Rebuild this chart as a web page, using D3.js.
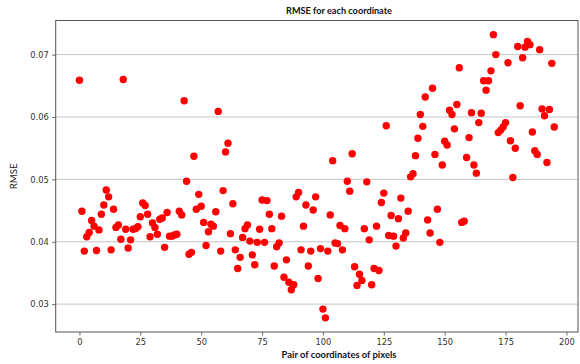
<!DOCTYPE html>
<html>
<head>
<meta charset="utf-8">
<script src="https://cdn.jsdelivr.net/npm/d3@7"></script>
<style>
  html, body { margin: 0; padding: 0; background: #ffffff; }
  svg { display: block; }
</style>
</head>
<body>
<svg id="chart" width="580" height="364"></svg>
<script>
// RMSE of each pair of pixel coordinates (pair index = position in the list)
const rmse = [
  0.0659, 0.0449, 0.0385, 0.0408, 0.0415, 0.0434, 0.0425, 0.0386, 0.0419, 0.0444,
  0.0459, 0.0483, 0.0472, 0.0387, 0.0452, 0.0423, 0.0427, 0.0404, 0.0660, 0.0420,
  0.0390, 0.0403, 0.0420, 0.0421, 0.0424, 0.0440, 0.0462, 0.0458, 0.0444, 0.0408,
  0.0430, 0.0423, 0.0412, 0.0436, 0.0438, 0.0391, 0.0447, 0.0409, 0.0409, 0.0411,
  0.0412, 0.0449, 0.0443, 0.0626, 0.0497, 0.0380, 0.0383, 0.0537, 0.0452, 0.0476,
  0.0457, 0.0431, 0.0394, 0.0416, 0.0428, 0.0425, 0.0448, 0.0609, 0.0385, 0.0482,
  0.0544, 0.0558, 0.0413, 0.0461, 0.0387, 0.0357, 0.0375, 0.0407, 0.0421, 0.0427,
  0.0401, 0.0379, 0.0363, 0.0399, 0.0420, 0.0467, 0.0399, 0.0466, 0.0444, 0.0421,
  0.0361, 0.0392, 0.0398, 0.0441, 0.0343, 0.0371, 0.0335, 0.0323, 0.0331, 0.0472,
  0.0479, 0.0387, 0.0425, 0.0459, 0.0361, 0.0385, 0.0451, 0.0472, 0.0341, 0.0389,
  0.0292, 0.0278, 0.0385, 0.0443, 0.0530, 0.0398, 0.0397, 0.0426, 0.0387, 0.0421,
  0.0497, 0.0481, 0.0541, 0.0360, 0.0330, 0.0348, 0.0338, 0.0421, 0.0496, 0.0403,
  0.0331, 0.0357, 0.0425, 0.0354, 0.0463, 0.0478, 0.0586, 0.0410, 0.0442, 0.0409,
  0.0393, 0.0437, 0.0470, 0.0406, 0.0414, 0.0449, 0.0504, 0.0509, 0.0538, 0.0566,
  0.0604, 0.0585, 0.0632, 0.0435, 0.0414, 0.0646, 0.0540, 0.0452, 0.0399, 0.0523,
  0.0561, 0.0555, 0.0611, 0.0604, 0.0581, 0.0620, 0.0679, 0.0431, 0.0433, 0.0535,
  0.0567, 0.0607, 0.0523, 0.0510, 0.0591, 0.0606, 0.0658, 0.0643, 0.0658, 0.0674,
  0.0732, 0.0700, 0.0575, 0.0579, 0.0584, 0.0591, 0.0687, 0.0562, 0.0503, 0.0550,
  0.0713, 0.0618, 0.0695, 0.0712, 0.0721, 0.0716, 0.0576, 0.0546, 0.0540, 0.0708,
  0.0613, 0.0602, 0.0527, 0.0612, 0.0686, 0.0584
];

const xTicks = [0, 25, 50, 75, 100, 125, 150, 175, 200];
const yTicks = [0.03, 0.04, 0.05, 0.06, 0.07];

const titleText = "RMSE for each coordinate";
const xLabelText = "Pair of coordinates of pixels";
const yLabelText = "RMSE";

const points = rmse.map((v, i) => ({ pair: i, value: v }));

const svg = d3.select("#chart");
const W = 580, H = 364;
const plot = { left: 55.7, right: 578, top: 20.5, bottom: 332 };

// pad the data extent by 5% on each side
function padded(ext) {
  const span = ext[1] - ext[0];
  return [ext[0] - span * 0.05, ext[1] + span * 0.05];
}

const x = d3.scaleLinear()
  .domain(padded(d3.extent(points, d => d.pair)))
  .range([plot.left, plot.right]);
const y = d3.scaleLinear()
  .domain(padded(d3.extent(points, d => d.value)))
  .range([plot.bottom, plot.top]);

svg.append("rect").attr("width", W).attr("height", H).attr("fill", "#ffffff");

// horizontal grid lines
svg.append("g")
  .selectAll("line")
  .data(yTicks)
  .join("line")
  .attr("x1", plot.left).attr("x2", plot.right)
  .attr("y1", d => y(d)).attr("y2", d => y(d))
  .attr("stroke", "#c4c4c4")
  .attr("stroke-width", 1);

// axes
const tickFont = "'DejaVu Sans', sans-serif";
const xAxis = svg.append("g")
  .attr("transform", `translate(0,${plot.bottom})`)
  .call(d3.axisBottom(x).tickValues(xTicks).tickSize(3.5).tickPadding(3.5).tickFormat(d3.format("d")));
const yAxis = svg.append("g")
  .attr("transform", `translate(${plot.left},0)`)
  .call(d3.axisLeft(y).tickValues(yTicks).tickSize(3.5).tickPadding(3.5).tickFormat(d3.format(".2f")));

[xAxis, yAxis].forEach(g => {
  g.select(".domain").remove();
  g.selectAll(".tick line").attr("stroke", "#444").attr("stroke-width", 0.8);
  g.selectAll(".tick text")
    .attr("fill", "#333")
    .style("font-family", tickFont)
    .style("font-size", "8.3px");
});

// frame
svg.append("rect")
  .attr("x", plot.left).attr("y", plot.top)
  .attr("width", plot.right - plot.left)
  .attr("height", plot.bottom - plot.top)
  .attr("fill", "none")
  .attr("stroke", "#555")
  .attr("stroke-width", 1);

// scatter points
svg.append("g")
  .selectAll("circle")
  .data(points)
  .join("circle")
  .attr("cx", d => x(d.pair))
  .attr("cy", d => y(d.value))
  .attr("r", 3.7)
  .attr("fill", "#ff0000");

// size a text so its rendered width comes out at the given number of pixels
function fitWidth(sel, target) {
  sel.style("font-size", "10px");
  const w = sel.node().getComputedTextLength();
  sel.style("font-size", (10 * target / w).toFixed(2) + "px");
  return sel;
}

const labelFont = "Lato, 'Open Sans', sans-serif";

const title = svg.append("text")
  .attr("x", 339).attr("y", 14)
  .attr("text-anchor", "middle")
  .style("font-family", labelFont)
  .style("font-weight", "bold")
  .attr("fill", "#111")
  .text(titleText);
fitWidth(title, 106);

const xl = svg.append("text")
  .attr("x", 339).attr("y", 358)
  .attr("text-anchor", "middle")
  .style("font-family", labelFont)
  .style("font-weight", "bold")
  .attr("fill", "#111")
  .text(xLabelText);
fitWidth(xl, 115);

const yl = svg.append("text")
  .attr("transform", `translate(17,${(plot.top + plot.bottom) / 2}) rotate(-90)`)
  .attr("text-anchor", "middle")
  .style("font-family", labelFont)
  .attr("fill", "#222")
  .text(yLabelText);
fitWidth(yl, 26);
</script>
</body>
</html>
